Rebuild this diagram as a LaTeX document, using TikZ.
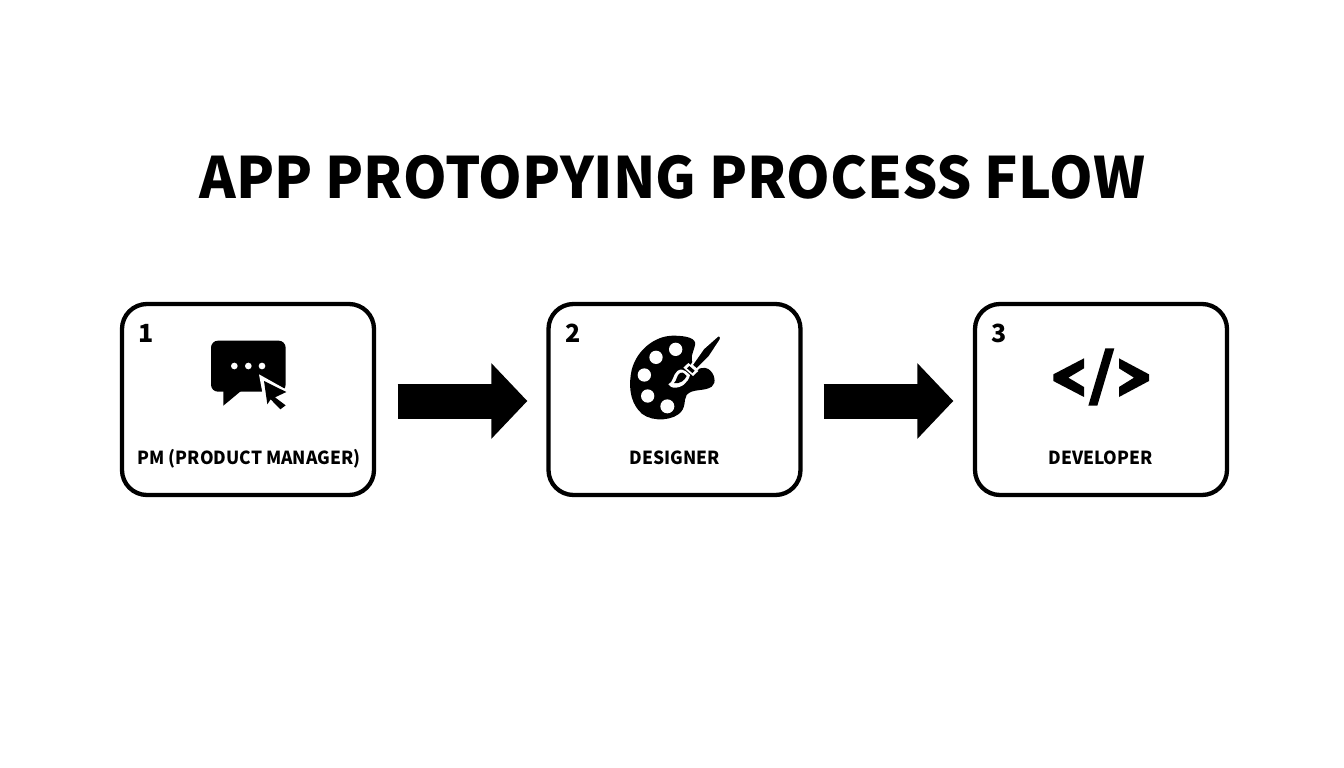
\documentclass[tikz,border=0pt]{standalone}
\usepackage{fontspec}
\setmainfont{Noto Sans CJK SC}
\newfontfamily\titlefam[FakeStretch=0.975]{Noto Sans CJK SC}
\newfontfamily\labelfam[FakeStretch=0.965]{Noto Sans CJK SC}
\usetikzlibrary{arrows.meta}
\tikzset{
  card/.style={draw=black,line width=4.3pt,fill=white,rounded corners=25pt,minimum width=252pt,minimum height=191pt,inner sep=0pt},
  cardnum/.style={font=\fontsize{25}{25}\selectfont\bfseries,text=black,inner sep=0pt},
  cardlabel/.style={font=\labelfam\fontsize{18}{18}\selectfont\bfseries,text=black,inner sep=0pt,anchor=base},
  flowarrow/.style={line width=35pt,black,-{Triangle[length=36pt,width=73.5pt]}},
  zoomA/.style={shift={(115,295)},x=0.33333pt,y=-0.33333pt},
  zoomB/.style={shift={(540,295)},x=0.33333pt,y=-0.33333pt},
  zoomC/.style={shift={(965,295)},x=0.33333pt,y=-0.33333pt},
}
\begin{document}
\begin{tikzpicture}[x=1pt,y=-1pt]
\useasboundingbox (0,0) rectangle (1344,768);
\fill[white] (0,0) rectangle (1344,768);
\node[font=\titlefam\fontsize{57}{57}\selectfont\bfseries,inner sep=0pt,anchor=center] (title) at (672.5,177) {APP PROTOPYING PROCESS FLOW};
\node[card] (box1) at (248,399.5) {};
\node[card] (box2) at (674.5,399.5) {};
\node[card] (box3) at (1101,399.5) {};
\node[cardnum] (n1) at (146,333) {1};
\node[cardnum] (n2) at (573,333) {2};
\node[cardnum] (n3) at (999,333) {3};
\node[cardlabel] (l1) at (249,464.5) {PM (PRODUCT MANAGER)};
\node[cardlabel] (l2) at (674.5,464.5) {DESIGNER};
\node[cardlabel] (l3) at (1100.5,464.5) {DEVELOPER};
\draw[flowarrow,shorten <=21.5pt,shorten >=19pt] ([yshift=-1.5pt]box1.east) -- ([yshift=-1.5pt]box2.west);
\draw[flowarrow,shorten <=21pt,shorten >=19.5pt] ([yshift=-1.5pt]box2.east) -- ([yshift=-1.5pt]box3.west);
% chat icon
\begin{scope}[zoomA]
\fill[black,rounded corners=7pt] (288,137) rectangle (512,290);
\fill[black] (325,280) -- (325,332) -- (378,288) -- cycle;
\foreach \cx in {358,400,441} \fill[white] (\cx,213) circle[radius=10];
\fill[white] (432,238) -- (525,290) -- (470,320) -- (450,335) -- cycle;
\fill[black] (447,258) -- (514,291) -- (480,307) -- (512,331) -- (496,343) -- (467,313) -- (457,328) -- cycle;
\end{scope}
% palette icon
\begin{scope}[zoomB]
\fill[black] (400,122) .. controls (440,122) and (470,130) .. (465,150)
  .. controls (460,175) and (445,190) .. (465,215)
  .. controls (480,228) and (490,212) .. (505,222)
  .. controls (525,235) and (530,265) .. (515,275)
  .. controls (495,290) and (455,280) .. (440,300)
  .. controls (430,315) and (440,340) .. (415,358)
  .. controls (385,380) and (320,380) .. (295,345)
  .. controls (270,315) and (265,270) .. (275,225)
  .. controls (290,165) and (345,122) .. (400,122) -- cycle;
\fill[white] (407,163) circle[radius=20];
\fill[white] (348,187) circle[radius=20];
\fill[white] (313,240) circle[radius=20];
\fill[white] (323,303) circle[radius=20];
\fill[white] (382,334) circle[radius=21];
% brush
\fill[black,draw=white,line width=2pt,line join=round] (533,122) .. controls (542,120) and (546,127) .. (541,136)
  -- (508,186) -- (470,224) -- (455,210) -- (490,160) -- cycle;
\fill[white] (445,204) -- (475,228) -- (459,243) -- (430,218) -- cycle;
\fill[black] (448,213) -- (464,227) -- (457,234) -- (441,220) -- cycle;
\fill[white] (385,268) .. controls (400,262) and (398,240) .. (412,228)
  .. controls (420,222) and (430,222) .. (436,228) -- (450,240)
  .. controls (445,262) and (425,280) .. (400,278) .. controls (395,278) and (390,273) .. (385,268) -- cycle;
\fill[black] (402,264) .. controls (410,258) and (410,240) .. (420,234)
  .. controls (426,231) and (430,233) .. (433,236) -- (440,243)
  .. controls (435,255) and (420,268) .. (402,264) -- cycle;
\end{scope}
% code icon
\begin{scope}[zoomC]
\fill[black] (357,190) -- (357,220) -- (310,248) -- (357,276) -- (357,306) -- (265,258) -- (265,238) -- cycle;
\fill[black] (421,160) -- (448,160) -- (397,332) -- (370,332) -- cycle;
\fill[black] (462,190) -- (462,220) -- (507,248) -- (462,276) -- (462,306) -- (552,258) -- (552,238) -- cycle;
\end{scope}
\end{tikzpicture}
\end{document}
